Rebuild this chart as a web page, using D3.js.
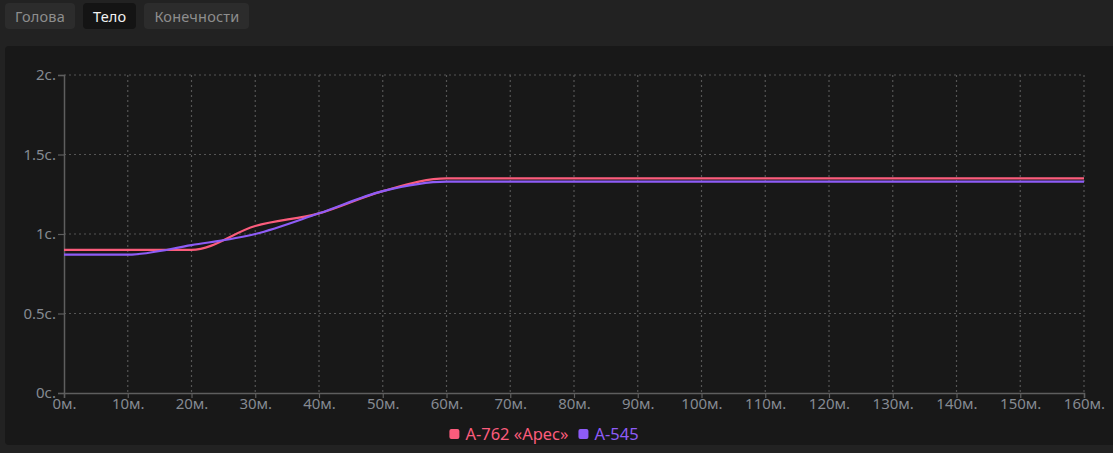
<!DOCTYPE html>
<html><head><meta charset="utf-8">
<script src="https://cdn.jsdelivr.net/npm/d3@7"></script>
<style>
html,body{margin:0;padding:0;background:#222222;width:1113px;height:453px;overflow:hidden;font-family:"Noto Sans",Lato,sans-serif;}
.tabs{position:absolute;left:5px;top:3px;display:flex;gap:8px;}
.tab{height:26px;line-height:26px;padding:0 10px;border-radius:4px;background:#2c2c2c;color:#8e8e8e;font-size:14.5px;letter-spacing:0.2px;}
.tab.active{background:#141414;color:#f2f2f2;}
.panel{position:absolute;left:5px;top:46px;width:1120px;height:399px;background:#181818;border-radius:4px;}
svg{position:absolute;left:0;top:0;}
</style></head>
<body>
<div class="tabs" id="tabs"></div>
<div class="panel"></div>
<svg id="chart" width="1113" height="453"></svg>
<script>
const tabs = ["Голова", "Тело", "Конечности"];
const activeTab = "Тело";
const minutes = [0,10,20,30,40,50,60,70,80,90,100,110,120,130,140,150,160];
const seriesNames = ["A-762 «Арес»", "A-545"];
const ares = [0.90,0.90,0.90,1.05,1.13,1.27,1.35,1.35,1.35,1.35,1.35,1.35,1.35,1.35,1.35,1.35,1.35];
const a545 = [0.87,0.87,0.93,1.00,1.13,1.27,1.33,1.33,1.33,1.33,1.33,1.33,1.33,1.33,1.33,1.33,1.33];
const yTicks = [0,0.5,1,1.5,2];
const yTickLabels = ["0с.","0.5с.","1с.","1.5с.","2с."];
const xTickLabels = minutes.map(m => m + "м.");
const colors = ["#fb5c7c", "#8e5cf7"];

d3.select("#tabs").selectAll("div").data(tabs).join("div")
  .attr("class", d => "tab" + (d === activeTab ? " active" : "")).text(d => d);

const svg = d3.select("#chart");
const x = d3.scaleLinear().domain([0,160]).range([64,1084]);
const y = d3.scaleLinear().domain([0,2]).range([393,75]);

// grid
const g = svg.append("g");
g.selectAll(".vg").data(minutes.slice(1)).join("line")
  .attr("x1", d=>x(d)).attr("x2", d=>x(d)).attr("y1", y(2)).attr("y2", y(0))
  .attr("stroke","#555").attr("stroke-width",1.2).attr("stroke-dasharray","2,3");
g.selectAll(".hg").data(yTicks.slice(1)).join("line")
  .attr("x1", x(0)).attr("x2", x(160)).attr("y1", d=>y(d)).attr("y2", d=>y(d))
  .attr("stroke","#555").attr("stroke-width",1.2).attr("stroke-dasharray","2,3");

// axes
const xAxis = d3.axisBottom(x).tickValues(minutes).tickFormat((d,i)=>xTickLabels[i]).tickSize(5).tickPadding(1);
const yAxis = d3.axisLeft(y).tickValues(yTicks).tickFormat((d,i)=>yTickLabels[i]).tickSize(6).tickPadding(2);
const xa = svg.append("g").attr("transform",`translate(0,${y(0)})`).call(xAxis);
const ya = svg.append("g").attr("transform",`translate(${x(0)},0)`).call(yAxis);
[xa,ya].forEach(a=>{
  a.select(".domain").attr("stroke","#5e5e5e").attr("stroke-width",1.5);
  a.selectAll(".tick line").attr("stroke","#5e5e5e").attr("stroke-width",1.2);
  a.selectAll("text").attr("fill","#858a92").style("font-size","15px").style("font-family","'Noto Sans',Lato,sans-serif");
});
ya.selectAll("text").attr("dy","0.3em");
xa.selectAll("text").attr("dy","0.66em");

// lines
const line = d3.line().x((d,i)=>x(minutes[i])).y(d=>y(d)).curve(d3.curveMonotoneX);
[ares, a545].forEach((s,i)=>{
  svg.append("path").attr("d", line(s)).attr("fill","none")
    .attr("stroke", colors[i]).attr("stroke-width", 2.2);
});

// legend
const lg = svg.append("g").attr("transform","translate(0,434)");
const items = lg.selectAll("g").data(seriesNames).join("g");
items.append("rect").attr("width",10).attr("height",10).attr("rx",2).attr("y",-5).attr("fill",(d,i)=>colors[i]);
items.append("text").attr("x",16).attr("dy","0.36em").text(d=>d)
  .attr("fill",(d,i)=>colors[i]).style("font-size","16.5px").style("font-family","'Noto Sans',Lato,sans-serif");
let cx = 0; const widths=[];
items.each(function(){ widths.push(this.getBBox().width); });
const total = widths.reduce((a,b)=>a+b,0) + 10*(widths.length-1);
cx = 544 - total/2;
items.attr("transform",(d,i)=>{ const t=`translate(${cx},0)`; cx += widths[i]+10; return t; });
</script>
</body></html>
